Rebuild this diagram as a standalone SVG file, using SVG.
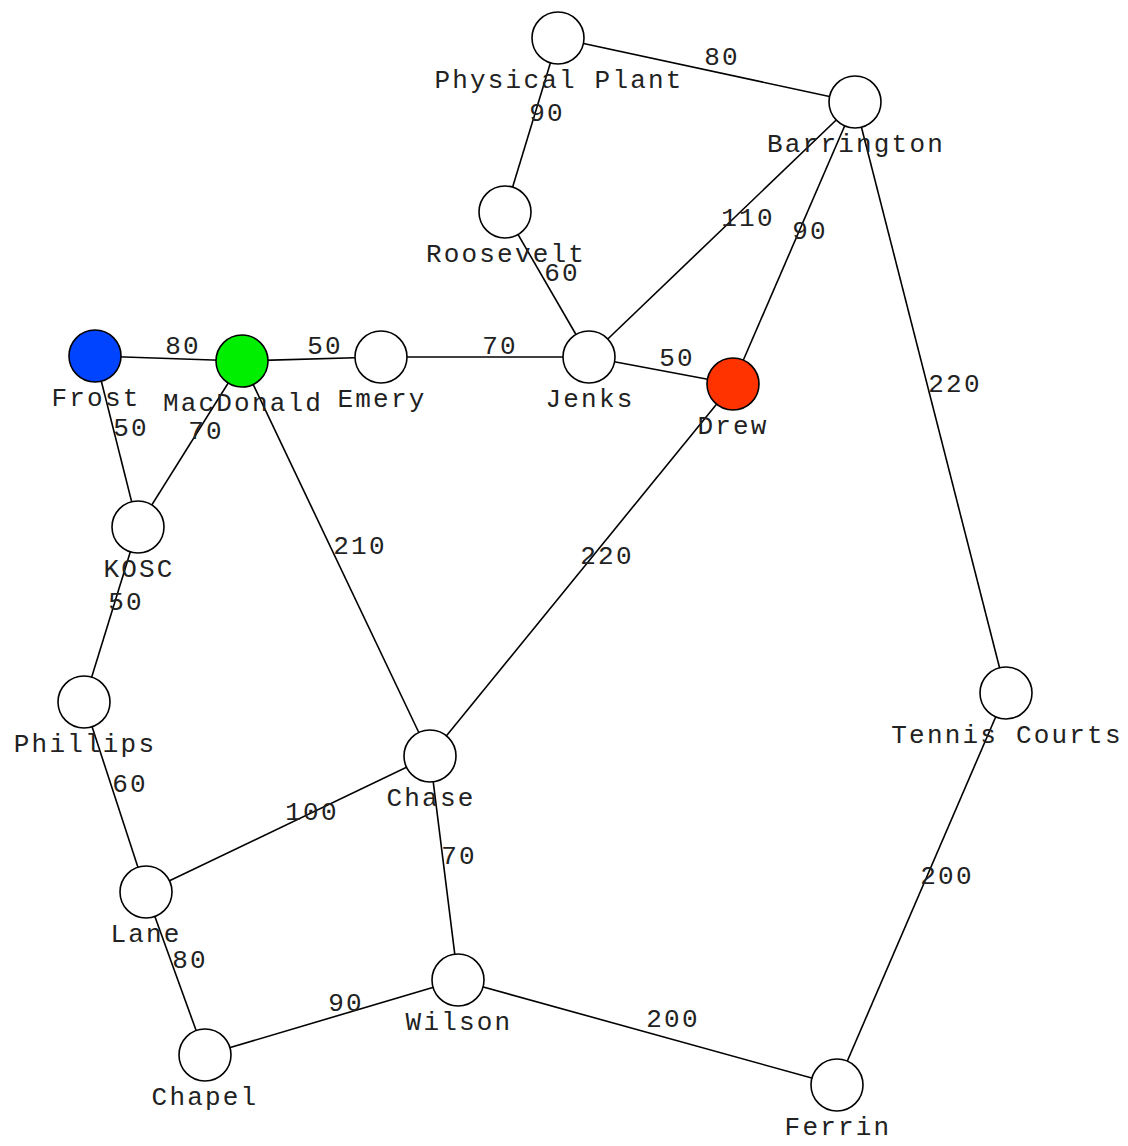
<svg xmlns="http://www.w3.org/2000/svg" width="1128" height="1146" viewBox="0 0 1128 1146">
<style>
.e{stroke:#000;stroke-width:1.6;fill:none}
.n{stroke:#000;stroke-width:1.6;fill:#fff}
text{font-family:"Liberation Mono","DejaVu Sans Mono",monospace;font-size:26px;letter-spacing:2.2px;text-anchor:middle;fill:#222}
</style>
<rect width="1128" height="1146" fill="#fff"/>
<g id="connectors">
<line class="e" x1="558" y1="38" x2="855" y2="102"/>
<line class="e" x1="558" y1="38" x2="505" y2="212"/>
<line class="e" x1="855" y1="102" x2="589" y2="357"/>
<line class="e" x1="855" y1="102" x2="733" y2="384"/>
<line class="e" x1="855" y1="102" x2="1006" y2="693"/>
<line class="e" x1="505" y1="212" x2="589" y2="357"/>
<line class="e" x1="95" y1="356" x2="242" y2="361"/>
<line class="e" x1="242" y1="361" x2="381" y2="357"/>
<line class="e" x1="381" y1="357" x2="589" y2="357"/>
<line class="e" x1="589" y1="357" x2="733" y2="384"/>
<line class="e" x1="95" y1="356" x2="138" y2="527"/>
<line class="e" x1="242" y1="361" x2="138" y2="527"/>
<line class="e" x1="242" y1="361" x2="430" y2="756"/>
<line class="e" x1="733" y1="384" x2="430" y2="756"/>
<line class="e" x1="138" y1="527" x2="84" y2="702"/>
<line class="e" x1="84" y1="702" x2="146" y2="892"/>
<line class="e" x1="146" y1="892" x2="430" y2="756"/>
<line class="e" x1="430" y1="756" x2="458" y2="980"/>
<line class="e" x1="146" y1="892" x2="205" y2="1055"/>
<line class="e" x1="205" y1="1055" x2="458" y2="980"/>
<line class="e" x1="458" y1="980" x2="837" y2="1085"/>
<line class="e" x1="1006" y1="693" x2="837" y2="1085"/>
<text x="722" y="65">80</text>
<text x="547" y="121">90</text>
<text x="748" y="226">110</text>
<text x="810" y="239">90</text>
<text x="955" y="392">220</text>
<text x="562" y="281">60</text>
<text x="183" y="354">80</text>
<text x="325" y="354">50</text>
<text x="500" y="354">70</text>
<text x="677" y="366">50</text>
<text x="131" y="436">50</text>
<text x="206" y="439">70</text>
<text x="360" y="554">210</text>
<text x="607" y="564">220</text>
<text x="126" y="610">50</text>
<text x="130" y="792">60</text>
<text x="312" y="820">100</text>
<text x="459" y="864">70</text>
<text x="190" y="968">80</text>
<text x="346" y="1011">90</text>
<text x="673" y="1027">200</text>
<text x="947" y="884">200</text>
</g>
<g id="physical-plant"><circle class="n" cx="558" cy="38" r="26"/><text x="559" y="88">Physical Plant</text></g>
<g id="barrington"><circle class="n" cx="855" cy="102" r="26"/><text x="856" y="152">Barrington</text></g>
<g id="roosevelt"><circle class="n" cx="505" cy="212" r="26"/><text x="506" y="262">Roosevelt</text></g>
<g id="frost"><circle class="n" cx="95" cy="356" r="26" style="fill:#0044ff"/><text x="96" y="406">Frost</text></g>
<g id="macdonald"><circle class="n" cx="242" cy="361" r="26" style="fill:#00ee00"/><text x="243" y="411">MacDonald</text></g>
<g id="emery"><circle class="n" cx="381" cy="357" r="26"/><text x="382" y="407">Emery</text></g>
<g id="jenks"><circle class="n" cx="589" cy="357" r="26"/><text x="590" y="407">Jenks</text></g>
<g id="drew"><circle class="n" cx="733" cy="384" r="26" style="fill:#ff3300"/><text x="733" y="434">Drew</text></g>
<g id="kosc"><circle class="n" cx="138" cy="527" r="26"/><text x="139" y="577">KOSC</text></g>
<g id="phillips"><circle class="n" cx="84" cy="702" r="26"/><text x="85" y="752">Phillips</text></g>
<g id="chase"><circle class="n" cx="430" cy="756" r="26"/><text x="431" y="806">Chase</text></g>
<g id="tennis-courts"><circle class="n" cx="1006" cy="693" r="26"/><text x="1007" y="743">Tennis Courts</text></g>
<g id="lane"><circle class="n" cx="146" cy="892" r="26"/><text x="146" y="942">Lane</text></g>
<g id="wilson"><circle class="n" cx="458" cy="980" r="26"/><text x="459" y="1030">Wilson</text></g>
<g id="chapel"><circle class="n" cx="205" cy="1055" r="26"/><text x="205" y="1105">Chapel</text></g>
<g id="ferrin"><circle class="n" cx="837" cy="1085" r="26"/><text x="838" y="1135">Ferrin</text></g>
</svg>
